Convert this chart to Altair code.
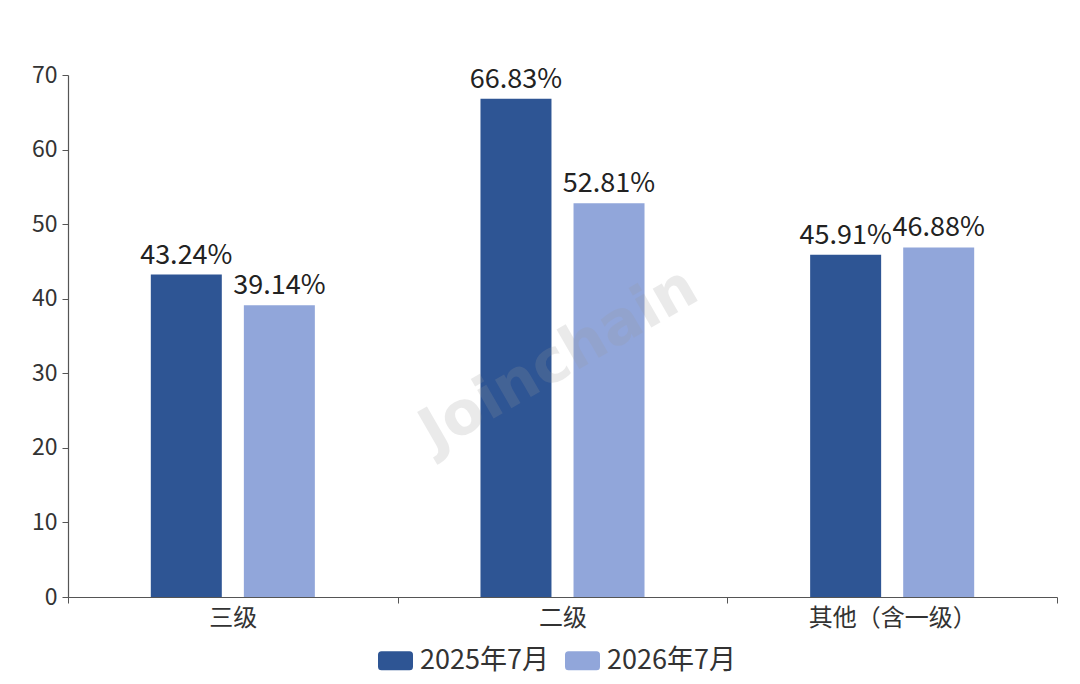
import altair as alt
import pandas as pd

categories = ["三级", "二级", "其他（含一级）"]
series = ["2025年7月", "2026年7月"]
values_2025 = [43.24, 66.83, 45.91]
values_2026 = [39.14, 52.81, 46.88]
colors = ["#2E5594", "#91A6DA"]
y_ticks = [0, 10, 20, 30, 40, 50, 60, 70]

rows = []
for c, v1, v2 in zip(categories, values_2025, values_2026):
    rows.append({"cat": c, "series": series[0], "value": v1, "label": f"{v1:.2f}%"})
    rows.append({"cat": c, "series": series[1], "value": v2, "label": f"{v2:.2f}%"})
df = pd.DataFrame(rows)

FONT = "Noto Sans CJK SC"

x = alt.X(
    "cat:N", sort=categories, title=None,
    scale=alt.Scale(paddingInner=0, paddingOuter=0),
    axis=alt.Axis(labelAngle=0, tickBand="extent", labelFontSize=24, labelColor="#333333",
                  labelFont=FONT, domainColor="#555555", tickColor="#555555", tickSize=6,
                  labelPadding=3, domainWidth=1.2),
)
xo = alt.XOffset("series:N", sort=series, scale=alt.Scale(paddingInner=0.237, paddingOuter=0.89))
y = alt.Y(
    "value:Q", title=None, scale=alt.Scale(domain=[0, 70], nice=False),
    axis=alt.Axis(values=y_ticks, grid=False, labelFontSize=23, labelColor="#333333",
                  labelFont=FONT, domainColor="#555555", tickColor="#555555", tickSize=6,
                  labelPadding=5, domainWidth=1.2),
)

rounded = ("M-0.8,-0.543 H0.8 Q1,-0.543 1,-0.343 V0.343 Q1,0.543 0.8,0.543 "
           "H-0.8 Q-1,0.543 -1,0.343 V-0.343 Q-1,-0.543 -0.8,-0.543 Z")

color = alt.Color(
    "series:N", sort=series, title=None,
    scale=alt.Scale(domain=series, range=colors),
    legend=alt.Legend(orient="none", legendX=310, legendY=568, direction="horizontal",
                      symbolType=rounded, symbolSize=1225, symbolStrokeWidth=0,
                      labelFontSize=27, labelFont=FONT, labelColor="#333333",
                      columnPadding=16, labelOffset=7),
)

base = alt.Chart(df)
bars = base.mark_bar().encode(x=x, xOffset=xo, y=y, color=color)
labels = base.mark_text(baseline="alphabetic", dy=-11, fontSize=27, font=FONT, color="#222222").encode(
    x=x, xOffset=xo, y=y, text="label:N"
)

wm = alt.Chart(pd.DataFrame({"t": ["Joinchain"]})).mark_text(
    fontSize=60, fontWeight="bold", font="DejaVu Sans", color="#9a9a9a", opacity=0.2, angle=330
).encode(x=alt.value(491), y=alt.value(285), text="t:N")

chart = alt.layer(bars, labels, wm).properties(
    width=989, height=522,
    autosize=alt.AutoSizeParams(type="none"),
    padding={"left": 60, "top": 67, "right": 15, "bottom": 80},
).configure_view(stroke=None)

chart.save("out.html", embed_options={"renderer": "svg", "actions": False})
